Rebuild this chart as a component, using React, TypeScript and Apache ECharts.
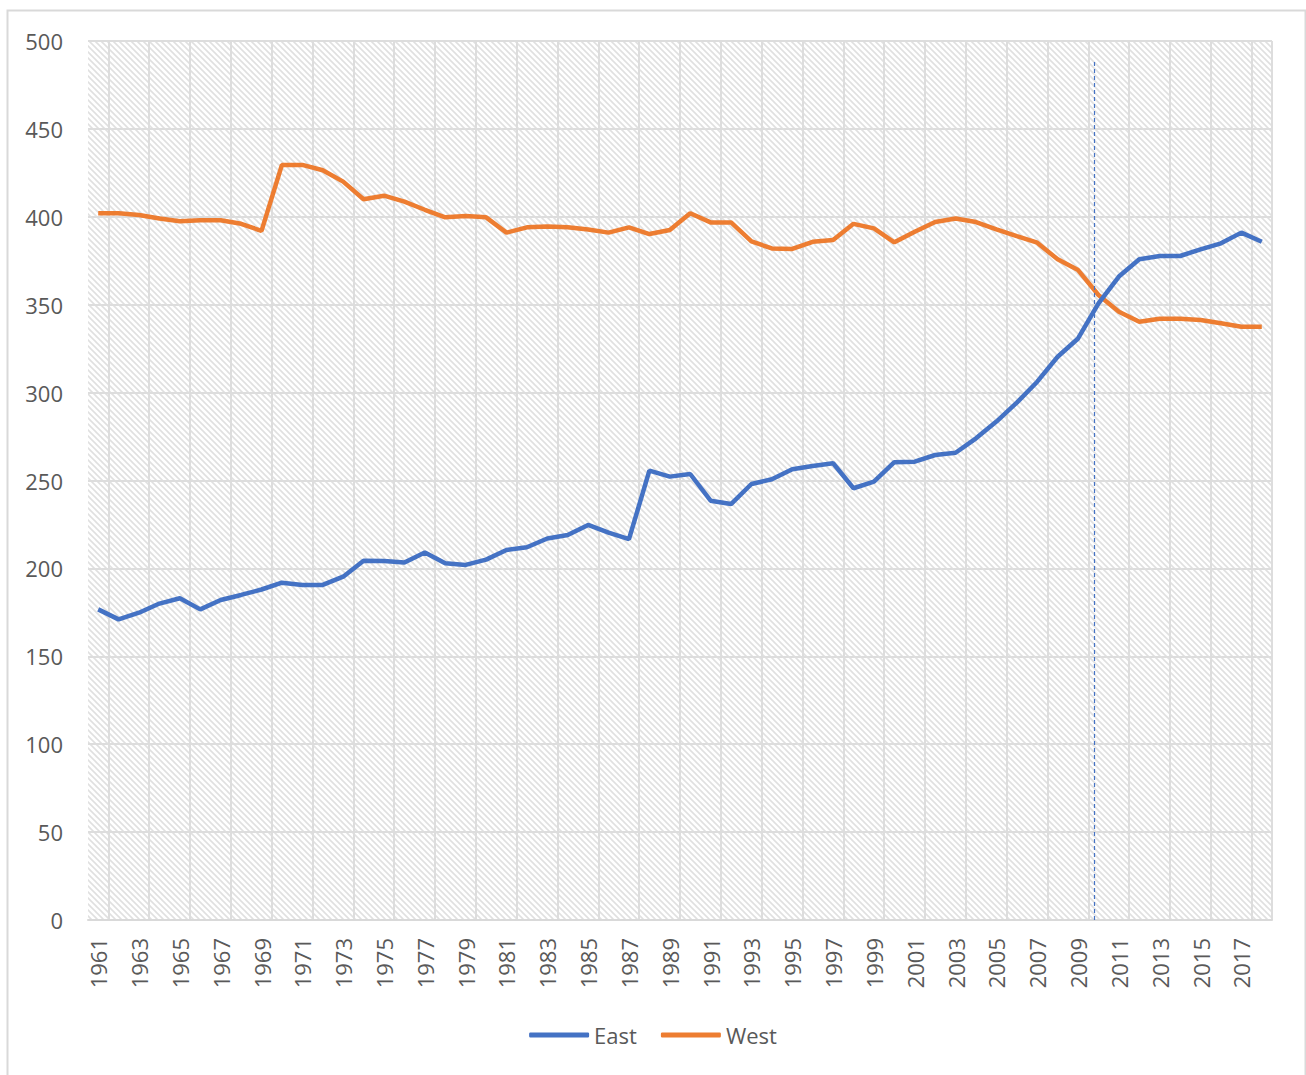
import React, { useEffect, useRef } from "react";
import * as echarts from "echarts";

const years: string[] = [];
for (let y = 1961; y <= 2018; y++) years.push(String(y));

const eastValues = [
  176.7, 171, 174.8, 180, 183, 176.7, 182, 184.9, 188, 191.9,
  190.6, 190.6, 195.3, 204.4, 204.2, 203.3, 209, 202.9, 202, 205,
  210.5, 212, 217, 219, 224.7, 220.3, 216.6, 255.6, 252.2, 253.7,
  238.5, 236.6, 248, 250.7, 256.4, 258.2, 259.8, 245.6, 249.3, 260.4,
  260.7, 264.5, 265.8, 274, 283.5, 294.3, 306.2, 320.4, 330.8, 350.8,
  366, 375.8, 377.7, 377.7, 381.5, 384.9, 391, 385.8,
];

const westValues = [
  402, 402, 401, 399, 397.5, 398, 398, 396, 392, 429.5,
  429.5, 426.5, 420, 410, 412, 408.6, 404, 399.7, 400.5, 399.7,
  391, 394, 394.5, 394, 392.8, 391, 394, 390.2, 392.5, 402,
  396.8, 396.8, 386, 382, 381.7, 385.8, 386.8, 396, 393.4, 385.5,
  391.5, 397, 399, 397, 392.8, 389, 385.3, 375.8, 369.7, 355.5,
  346, 340.3, 342, 342, 341.3, 339.4, 337.5, 337.5,
];

const seriesNames = ["East", "West"];
const seriesColors = ["#4472C4", "#ED7D31"];

// dashed reference marker (year position on a continuous scale, value range)
const markerYear = 2009.8;
const markerTop = 488;
const markerBottom = 0;

function makeHatch(): string {
  const n = 6;
  const c = document.createElement("canvas");
  c.width = n;
  c.height = n;
  const ctx = c.getContext("2d");
  if (!ctx) return "";
  ctx.fillStyle = "#ffffff";
  ctx.fillRect(0, 0, n, n);
  ctx.strokeStyle = "#e0e0e0";
  ctx.lineWidth = 1.6;
  for (let k = -n; k <= n; k += n) {
    ctx.beginPath();
    ctx.moveTo(k - 1, -1);
    ctx.lineTo(k + n + 1, n + 1);
    ctx.stroke();
  }
  return c.toDataURL("image/png");
}

export default function App() {
  const ref = useRef<HTMLDivElement>(null);
  useEffect(() => {
    if (!ref.current) return;
    const chart = echarts.init(ref.current, undefined, { renderer: "svg" });
    const font = "'Open Sans', sans-serif";
    const hatch = makeHatch();
    chart.setOption({
      animation: false,
      backgroundColor: "#ffffff",
      textStyle: { fontFamily: font },
      graphic: [
        {
          type: "rect",
          left: 5,
          top: 8,
          shape: { width: 1298, height: 1080 },
          style: { fill: "none", stroke: "#d9d9d9", lineWidth: 2 },
          silent: true,
        },
      ],
      grid: {
        left: 88,
        right: 34,
        top: 41,
        bottom: 155,
        show: true,
        borderWidth: 0,
        backgroundColor: { image: hatch, repeat: "repeat" },
      },
      legend: {
        data: seriesNames,
        bottom: 24,
        left: "center",
        icon: "roundRect",
        itemWidth: 60,
        itemHeight: 5,
        itemGap: 24,
        textStyle: { fontSize: 22, color: "#595959", fontFamily: font },
      },
      xAxis: [
        {
          type: "category",
          data: years,
          boundaryGap: true,
          axisLine: { show: true, lineStyle: { color: "#d9d9d9", width: 2 } },
          axisTick: { show: false },
          axisLabel: {
            interval: 1,
            rotate: 90,
            margin: 18,
            fontSize: 22,
            color: "#595959",
            fontFamily: font,
          },
          splitLine: {
            show: true,
            interval: (i: number) => i % 2 === 1 || i === years.length,
            lineStyle: { color: "#dddddd", width: 2 },
          },
        },
        {
          type: "value",
          min: 1960.5,
          max: 2018.5,
          show: false,
          splitLine: { show: false },
        },
      ],
      yAxis: {
        type: "value",
        min: 0,
        max: 500,
        interval: 50,
        axisLine: { show: false },
        axisTick: { show: false },
        axisLabel: { fontSize: 22, color: "#595959", margin: 25, fontFamily: font },
        splitLine: { show: true, lineStyle: { color: "#dddddd", width: 2 } },
      },
      series: [
        {
          name: seriesNames[0],
          type: "line",
          data: eastValues,
          symbol: "none",
          lineStyle: { color: seriesColors[0], width: 4.5 },
          itemStyle: { color: seriesColors[0] },
          z: 3,
        },
        {
          name: seriesNames[1],
          type: "line",
          data: westValues,
          symbol: "none",
          lineStyle: { color: seriesColors[1], width: 4.5 },
          itemStyle: { color: seriesColors[1] },
          z: 2,
        },
        {
          name: "marker",
          type: "line",
          xAxisIndex: 1,
          data: [],
          symbol: "none",
          silent: true,
          markLine: {
            silent: true,
            symbol: ["none", "none"],
            label: { show: false },
            lineStyle: { color: "#4472C4", type: [4, 3], width: 1.2 },
            data: [
              [
                { coord: [markerYear, markerTop] },
                { coord: [markerYear, markerBottom] },
              ],
            ],
          },
        },
      ],
    });
    return () => chart.dispose();
  }, []);
  return (
    <div
      ref={ref}
      style={{ position: "absolute", left: 0, top: 0, width: 1306, height: 1075 }}
    />
  );
}
